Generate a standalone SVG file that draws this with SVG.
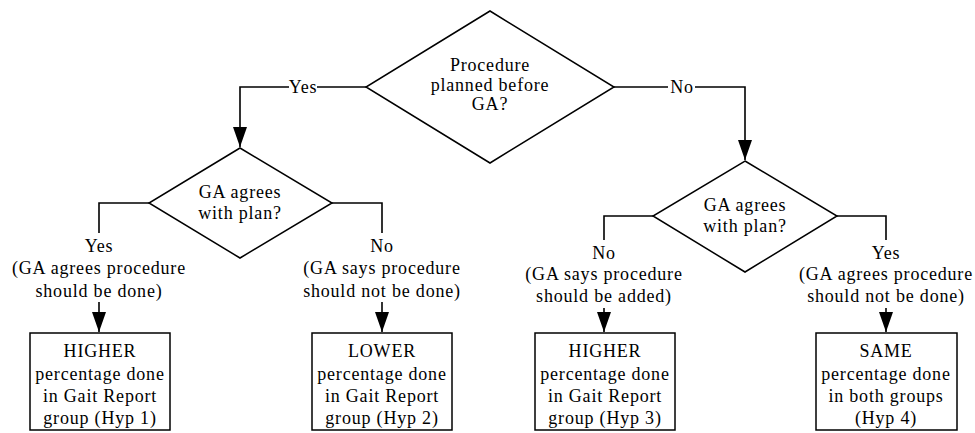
<svg xmlns="http://www.w3.org/2000/svg" width="975" height="433" viewBox="0 0 975 433">
<defs>
<style>
.t{font-family:"Liberation Serif","Times New Roman",serif;font-size:18px;fill:#000;text-anchor:middle;letter-spacing:0.8px}
.s{fill:#fff;stroke:#000;stroke-width:1.5}
.c{fill:none;stroke:#000;stroke-width:1.6}
</style>
<marker id="ah" viewBox="0 0 20 14" refX="20" refY="7" markerWidth="20" markerHeight="14" markerUnits="userSpaceOnUse" orient="auto">
<path d="M0,0 L20,7 L0,14 z" fill="#000"/>
</marker>
</defs>
<rect width="975" height="433" fill="#fff"/>
<g id="connectors">
<polyline class="c" points="366,87 317,87"/>
<polyline class="c" points="289,87 240,87 240,147" marker-end="url(#ah)"/>
<polyline class="c" points="614,87 668,87"/>
<polyline class="c" points="695,87 745,87 745,160" marker-end="url(#ah)"/>
<polyline class="c" points="149,203 99,203 99,233"/>
<polyline class="c" points="332,203 382,203 382,233"/>
<polyline class="c" points="653,216 604,216 604,240"/>
<polyline class="c" points="837,216 886,216 886,240"/>
<line class="c" x1="99" y1="302" x2="99" y2="332" marker-end="url(#ah)"/>
<line class="c" x1="382" y1="302" x2="382" y2="332" marker-end="url(#ah)"/>
<line class="c" x1="604" y1="308" x2="604" y2="332" marker-end="url(#ah)"/>
<line class="c" x1="886" y1="308" x2="886" y2="332" marker-end="url(#ah)"/>
<text class="t" x="303" y="93">Yes</text>
<text class="t" x="682" y="93">No</text>
<text class="t" x="99" y="252">Yes</text>
<text class="t" x="99" y="274">(GA agrees procedure</text>
<text class="t" x="99" y="297">should be done)</text>
<text class="t" x="382" y="252">No</text>
<text class="t" x="382" y="274">(GA says procedure</text>
<text class="t" x="382" y="297">should not be done)</text>
<text class="t" x="604" y="259">No</text>
<text class="t" x="604" y="280">(GA says procedure</text>
<text class="t" x="604" y="302">should be added)</text>
<text class="t" x="886" y="259">Yes</text>
<text class="t" x="886" y="280">(GA agrees procedure</text>
<text class="t" x="886" y="302">should not be done)</text>
</g>
<g id="d_top">
<polygon class="s" points="490,11 614,87 490,163 366,87"/>
<text class="t" x="490" y="71">Procedure</text>
<text class="t" x="490" y="91">planned before</text>
<text class="t" x="490" y="110">GA?</text>
</g>
<g id="d_left">
<polygon class="s" points="240,148 332,203 240,258 149,203"/>
<text class="t" x="240" y="198">GA agrees</text>
<text class="t" x="240" y="219">with plan?</text>
</g>
<g id="d_right">
<polygon class="s" points="745,161 837,216 745,272 653,216"/>
<text class="t" x="745" y="211">GA agrees</text>
<text class="t" x="745" y="232">with plan?</text>
</g>
<g id="b1">
<rect class="s" x="30" y="333" width="140" height="97"/>
<text class="t" x="100" y="357">HIGHER</text>
<text class="t" x="100" y="380">percentage done</text>
<text class="t" x="100" y="402">in Gait Report</text>
<text class="t" x="100" y="424">group (Hyp 1)</text>
</g>
<g id="b2">
<rect class="s" x="312" y="333" width="140" height="97"/>
<text class="t" x="382" y="357">LOWER</text>
<text class="t" x="382" y="380">percentage done</text>
<text class="t" x="382" y="402">in Gait Report</text>
<text class="t" x="382" y="424">group (Hyp 2)</text>
</g>
<g id="b3">
<rect class="s" x="535" y="333" width="140" height="97"/>
<text class="t" x="605" y="357">HIGHER</text>
<text class="t" x="605" y="380">percentage done</text>
<text class="t" x="605" y="402">in Gait Report</text>
<text class="t" x="605" y="424">group (Hyp 3)</text>
</g>
<g id="b4">
<rect class="s" x="816" y="333" width="141" height="97"/>
<text class="t" x="886" y="357">SAME</text>
<text class="t" x="886" y="380">percentage done</text>
<text class="t" x="886" y="402">in both groups</text>
<text class="t" x="886" y="424">(Hyp 4)</text>
</g>
</svg>
